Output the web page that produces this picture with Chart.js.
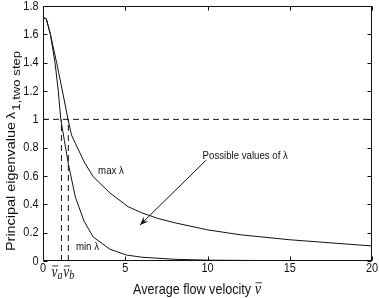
<!DOCTYPE html>
<html>
<head>
<meta charset="utf-8">
<script src="https://cdn.jsdelivr.net/npm/chart.js@4.4.1/dist/chart.umd.min.js"></script>
<style>
  html, body { margin: 0; padding: 0; background: #fff; }
  canvas { display: block; }
</style>
</head>
<body>
<canvas id="eigChart" width="379" height="298"></canvas>
<script>
// upper curve (max lambda)
const maxX = [0, 0.2, 0.45, 0.83, 1.18, 1.52, 1.73, 1.97, 2.5, 3.05, 4.07, 5.18, 6, 7, 8, 10, 12, 15, 20];
const maxY = [1.72, 1.71, 1.6, 1.4, 1.2, 1.0, 0.89, 0.83, 0.7, 0.595, 0.48, 0.383, 0.34, 0.3, 0.27, 0.22, 0.185, 0.15, 0.106];
// lower curve (min lambda)
const minX = [0, 0.2, 0.45, 0.73, 0.93, 1.08, 1.3, 1.55, 1.97, 2.5, 3.05, 4.07, 5.08, 6, 8, 10, 15, 20];
const minY = [1.72, 1.71, 1.6, 1.4, 1.2, 1.0, 0.85, 0.68, 0.45, 0.28, 0.17, 0.083, 0.042, 0.027, 0.012, 0.006, 0.002, 0.001];

const va = 1.12, vb = 1.54;      // critical velocities
const thresholdY = 1;

const xTicks = [0, 5, 10, 15, 20];
const xTickLabels = ['0', '5', '10', '15', '20'];
const yTicks = [0, 0.2, 0.4, 0.6, 0.8, 1, 1.2, 1.4, 1.6, 1.8];
const yTickLabels = ['0', '0.2', '0.4', '0.6', '0.8', '1', '1.2', '1.4', '1.6', '1.8'];

// annotations (data coordinates)
const maxLabelAt = [3.35, 0.635];
const minLabelAt = [2.0, 0.1];
const noteAt = [9.7, 0.74];
const arrowFrom = [9.9, 0.71];
const arrowTo = [5.9, 0.254];

const SX = 0.84; // the figure text is a bit narrow
const INK = '#111';

function txt(ctx, s, x, y, font, align) {
    ctx.save();
    ctx.translate(x, y);
    ctx.scale(SX, 1);
    ctx.font = font;
    ctx.textAlign = align || 'left';
    ctx.textBaseline = 'middle';
    ctx.fillText(s, 0, 0);
    ctx.restore();
}

function vbar(ctx, x, y, sub, size) {
    // italic v with a bar over it, optional subscript
    ctx.save();
    ctx.translate(x, y);
    ctx.scale(SX, 1);
    ctx.font = 'italic ' + size + 'px "Liberation Serif"';
    ctx.textBaseline = 'alphabetic';
    ctx.textAlign = 'left';
    ctx.fillText('v', 0, 0);
    const w = ctx.measureText('v').width;
    ctx.lineWidth = 0.9;
    ctx.beginPath();
    ctx.moveTo(1, -size * 0.66);
    ctx.lineTo(w + 1, -size * 0.66);
    ctx.stroke();
    if (sub) {
        ctx.font = 'italic ' + Math.round(size * 0.75) + 'px "Liberation Serif"';
        ctx.fillText(sub, w, size * 0.15);
    }
    ctx.restore();
}

// font size so that text spans a given length
function fitFont(ctx, s, family, len) {
    ctx.font = '20px ' + family;
    return 20 * len / ctx.measureText(s).width;
}

const framePlugin = {
    id: 'framePlugin',
    afterDraw(chart) {
        const ctx = chart.ctx;
        const xs = chart.scales.x, ys = chart.scales.y;
        const a = chart.chartArea;
        const L = Math.round(a.left) + 0.5, R = Math.round(a.right) - 0.5;
        const T = Math.round(a.top) + 0.5, B = Math.round(a.bottom) - 0.5;
        ctx.save();
        ctx.strokeStyle = INK;
        ctx.fillStyle = INK;
        ctx.lineWidth = 1;
        ctx.strokeRect(L, T, R - L, B - T);

        // inward ticks on all four sides
        ctx.beginPath();
        xTicks.forEach(v => {
            const px = Math.round(xs.getPixelForValue(v)) + 0.5;
            ctx.moveTo(px, B); ctx.lineTo(px, B - 4);
            ctx.moveTo(px, T); ctx.lineTo(px, T + 4);
        });
        yTicks.forEach(v => {
            const py = Math.round(ys.getPixelForValue(v)) + 0.5;
            ctx.moveTo(L, py); ctx.lineTo(L + 4, py);
            ctx.moveTo(R, py); ctx.lineTo(R - 4, py);
        });
        ctx.stroke();

        const tickFont = '13px "Liberation Sans"';
        xTicks.forEach((v, i) => {
            txt(ctx, xTickLabels[i], xs.getPixelForValue(v), B + 8, tickFont, 'center');
        });
        yTicks.forEach((v, i) => {
            txt(ctx, yTickLabels[i], L - 5, ys.getPixelForValue(v), tickFont, 'right');
        });

        // v_a and v_b under the axis
        vbar(ctx, xs.getPixelForValue(va) - 10, B + 16, 'a', 16);
        vbar(ctx, xs.getPixelForValue(vb) - 5, B + 16, 'b', 16);

        // x title
        const xTitle = 'Average flow velocity ';
        ctx.font = '15px "Liberation Sans"';
        const xw = ctx.measureText(xTitle).width * SX;
        const xStart = 133;
        txt(ctx, xTitle, xStart, 290, '15px "Liberation Sans"', 'left');
        vbar(ctx, xStart + xw, 294, null, 17);

        // y title, rotated; sized to span the same length as the original
        const fam = '"Liberation Sans"';
        const mainTxt = 'Principal eigenvalue';
        const mainSize = fitFont(ctx, mainTxt, fam, 129);
        const subTxt = '1,two step';
        const subSize = fitFont(ctx, subTxt, fam, 60);
        ctx.save();
        ctx.translate(15, 251);
        ctx.scale(SX, 1);
        ctx.rotate(-Math.PI / 2);
        ctx.textBaseline = 'alphabetic';
        ctx.textAlign = 'left';
        ctx.font = mainSize + 'px ' + fam;
        ctx.fillText(mainTxt, 0, 0);
        ctx.fillText('\u03bb', 132, 0);
        const lw = ctx.measureText('\u03bb').width;
        ctx.font = subSize + 'px ' + fam;
        ctx.fillText(subTxt, 132 + lw + 1, 6);
        ctx.restore();

        // curve labels
        const annFont = '11.5px "Liberation Sans"';
        txt(ctx, 'max \u03bb', xs.getPixelForValue(maxLabelAt[0]), ys.getPixelForValue(maxLabelAt[1]), annFont);
        txt(ctx, 'min \u03bb', xs.getPixelForValue(minLabelAt[0]), ys.getPixelForValue(minLabelAt[1]), annFont);
        txt(ctx, 'Possible values of \u03bb', xs.getPixelForValue(noteAt[0]), ys.getPixelForValue(noteAt[1]), annFont);

        // arrow
        const x1 = xs.getPixelForValue(arrowFrom[0]), y1 = ys.getPixelForValue(arrowFrom[1]);
        const x2 = xs.getPixelForValue(arrowTo[0]), y2 = ys.getPixelForValue(arrowTo[1]);
        ctx.beginPath();
        ctx.moveTo(x1, y1); ctx.lineTo(x2, y2);
        ctx.stroke();
        const ang = Math.atan2(y2 - y1, x2 - x1);
        const hl = 9, hw = 0.38;
        ctx.beginPath();
        ctx.moveTo(x2, y2);
        ctx.lineTo(x2 - hl * Math.cos(ang - hw), y2 - hl * Math.sin(ang - hw));
        ctx.lineTo(x2 - hl * 0.6 * Math.cos(ang), y2 - hl * 0.6 * Math.sin(ang));
        ctx.lineTo(x2 - hl * Math.cos(ang + hw), y2 - hl * Math.sin(ang + hw));
        ctx.closePath();
        ctx.fill();
        ctx.restore();
    }
};

function pts(xsArr, ysArr) {
    return xsArr.map((x, i) => ({ x: x, y: ysArr[i] }));
}

const lineStyle = { showLine: true, pointRadius: 0, borderWidth: 1, borderColor: INK, tension: 0, fill: false };
const dashStyle = { showLine: true, pointRadius: 0, borderWidth: 1, borderColor: INK, borderDash: [6, 4], tension: 0, fill: false };

const chart = new Chart(document.getElementById('eigChart').getContext('2d'), {
    type: 'scatter',
    data: {
        datasets: [
            Object.assign({ label: 'max', data: pts(maxX, maxY) }, lineStyle),
            Object.assign({ label: 'min', data: pts(minX, minY) }, lineStyle),
            Object.assign({ label: 'threshold', data: [{ x: 0, y: thresholdY }, { x: 20, y: thresholdY }] }, dashStyle),
            Object.assign({ label: 'va', data: [{ x: va, y: 0 }, { x: va, y: thresholdY }] }, dashStyle),
            Object.assign({ label: 'vb', data: [{ x: vb, y: 0 }, { x: vb, y: thresholdY }] }, dashStyle)
        ]
    },
    options: {
        responsive: false,
        animation: false,
        layout: { padding: { top: 6, right: 7, left: 0, bottom: 0 } },
        plugins: { legend: { display: false }, tooltip: { enabled: false } },
        scales: {
            x: {
                type: 'linear', min: 0, max: 20,
                grid: { display: false }, border: { display: false },
                ticks: { display: false },
                afterFit: s => { s.height = 37; }
            },
            y: {
                type: 'linear', min: 0, max: 1.8,
                grid: { display: false }, border: { display: false },
                ticks: { display: false },
                afterFit: s => { s.width = 43; }
            }
        }
    },
    plugins: [framePlugin]
});
</script>
</body>
</html>
